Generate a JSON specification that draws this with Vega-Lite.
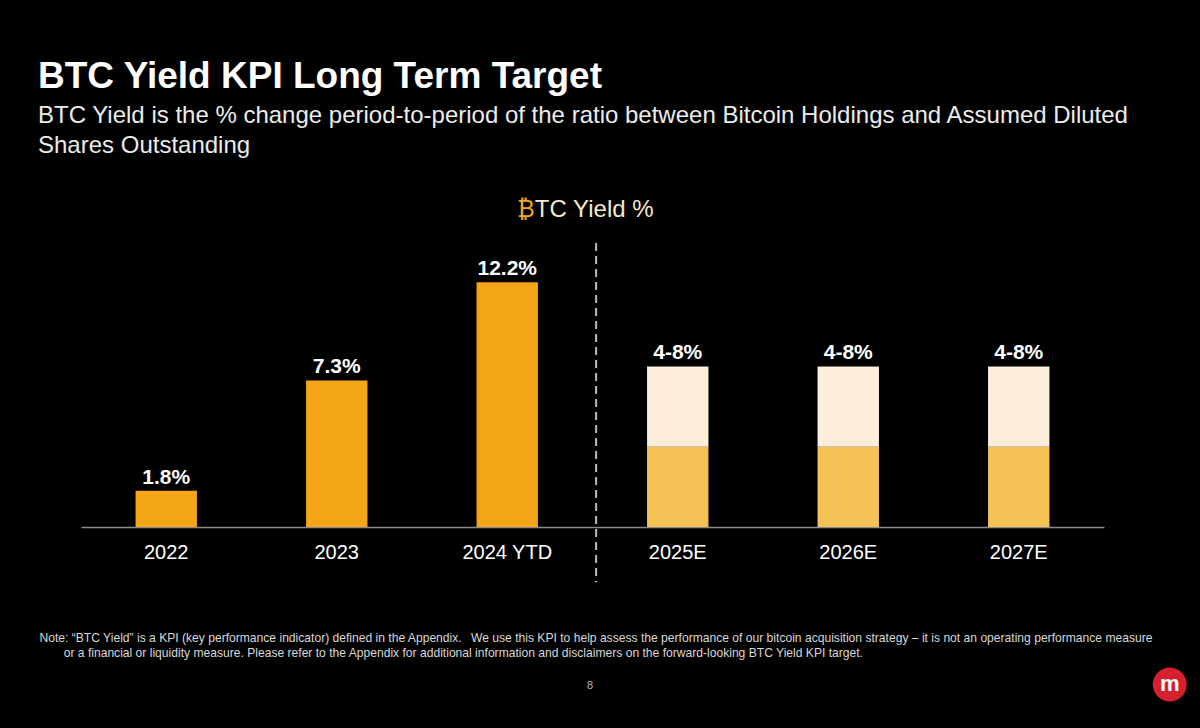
{
  "$schema": "https://vega.github.io/schema/vega-lite/v6.json",
  "width": 1023,
  "height": 284,
  "autosize": "none",
  "padding": {"left": 81, "top": 243, "right": 96, "bottom": 201},
  "background": "#000000",
  "config": {"view": {"stroke": null}, "font": "Liberation Sans"},
  "title": {
    "text": "BTC Yield KPI Long Term Target",
    "subtitle": ["BTC Yield is the % change period-to-period of the ratio between Bitcoin Holdings and Assumed Diluted", "Shares Outstanding"],
    "anchor": "start",
    "frame": "group",
    "dx": -43,
    "offset": 39,
    "font": "Liberation Sans",
    "fontSize": 37,
    "fontWeight": "bold",
    "color": "#ffffff",
    "subtitleFont": "Liberation Sans",
    "subtitleFontSize": 24,
    "subtitleColor": "#ececec",
    "subtitleLineHeight": 30,
    "subtitlePadding": 8
  },
  "data": {
    "values": [
      {"period": "2022", "low": 0, "high": 1.8, "part": "actual", "label": "1.8%"},
      {"period": "2023", "low": 0, "high": 7.3, "part": "actual", "label": "7.3%"},
      {"period": "2024 YTD", "low": 0, "high": 12.2, "part": "actual", "label": "12.2%"},
      {"period": "2025E", "low": 0, "high": 4, "part": "lower", "label": null},
      {"period": "2025E", "low": 4, "high": 8, "part": "upper", "label": "4-8%"},
      {"period": "2026E", "low": 0, "high": 4, "part": "lower", "label": null},
      {"period": "2026E", "low": 4, "high": 8, "part": "upper", "label": "4-8%"},
      {"period": "2027E", "low": 0, "high": 4, "part": "lower", "label": null},
      {"period": "2027E", "low": 4, "high": 8, "part": "upper", "label": "4-8%"}
    ]
  },
  "layer": [
    {
      "mark": {"type": "bar"},
      "encoding": {
        "x": {
          "field": "period",
          "type": "nominal",
          "sort": ["2022", "2023", "2024 YTD", "2025E", "2026E", "2027E"],
          "scale": {"paddingInner": 0.64, "paddingOuter": 0.32},
          "axis": {
            "title": [
              "Note: “BTC Yield” is a KPI (key performance indicator) defined in the Appendix.\u2002 We use this KPI to help assess the performance of our bitcoin acquisition strategy – it is not an operating performance measure",
              "\u200b\u2003\u2003or a financial or liquidity measure. Please refer to the Appendix for additional information and disclaimers on the forward-looking BTC Yield KPI target."
            ],
            "titleFont": "Liberation Sans",
            "titleFontSize": 12.1,
            "titleFontWeight": "normal",
            "titleColor": "#d8d8d8",
            "titleAlign": "left",
            "titleAnchor": "start",
            "titleX": -42,
            "titleY": 104,
            "titleBaseline": "top",
            "titleLineHeight": 15,
            "labelFont": "Liberation Sans",
            "labelFontSize": 20,
            "labelColor": "#ffffff",
            "labelPadding": 15,
            "labelAngle": 0,
            "ticks": false,
            "domainColor": "#8a8a8a",
            "domainWidth": 1.5,
            "grid": false
          }
        },
        "y": {"field": "low", "type": "quantitative", "scale": {"domain": [0, 14.15], "nice": false, "zero": true}, "axis": null},
        "y2": {"field": "high"},
        "color": {
          "field": "part",
          "type": "nominal",
          "scale": {"domain": ["actual", "lower", "upper"], "range": ["#F5A518", "#F5C256", "#FCEEDA"]},
          "legend": null
        }
      }
    },
    {
      "transform": [{"filter": "datum.label != null"}],
      "mark": {"type": "text", "baseline": "alphabetic", "dy": -7, "fontSize": 21, "fontWeight": "bold", "color": "#ffffff", "font": "Liberation Sans"},
      "encoding": {
        "x": {"field": "period", "type": "nominal", "sort": ["2022", "2023", "2024 YTD", "2025E", "2026E", "2027E"]},
        "y": {"field": "high", "type": "quantitative", "axis": null},
        "text": {"field": "label"}
      }
    },
    {
      "data": {"values": [{"divider": "forecast"}]},
      "mark": {"type": "rule", "color": "#bdbdbd", "strokeWidth": 2, "strokeDash": [8, 5]},
      "encoding": {
        "x": {"datum": "2025E", "bandPosition": -0.83},
        "y": {"datum": 14.15, "type": "quantitative", "axis": null},
        "y2": {"datum": -2.75}
      }
    },
    {
      "data": {"values": [{"t": "₿"}]},
      "mark": {"type": "text", "align": "right", "baseline": "middle", "fontSize": 24, "color": "#F5A623", "font": "Liberation Sans, Noto Sans, DejaVu Sans"},
      "encoding": {
        "x": {"datum": "2024 YTD", "bandPosition": 0.95},
        "y": {"datum": 15.8, "type": "quantitative", "axis": null},
        "text": {"field": "t"}
      }
    },
    {
      "data": {"values": [{"t": "TC Yield %"}]},
      "mark": {"type": "text", "align": "left", "baseline": "middle", "fontSize": 24, "color": "#F6E8CC", "font": "Liberation Sans"},
      "encoding": {
        "x": {"datum": "2024 YTD", "bandPosition": 0.95},
        "y": {"datum": 15.8, "type": "quantitative", "axis": null},
        "text": {"field": "t"}
      }
    },
    {
      "data": {"values": [{"t": "8"}]},
      "mark": {"type": "text", "align": "center", "baseline": "middle", "fontSize": 11, "color": "#bbbbbb", "font": "Liberation Sans"},
      "encoding": {
        "x": {"datum": "2025E", "bandPosition": -0.93},
        "y": {"datum": -7.9, "type": "quantitative", "axis": null},
        "text": {"field": "t"}
      }
    },
    {
      "data": {"values": [{"logo": "m"}]},
      "mark": {"type": "point", "shape": "circle", "filled": true, "size": 1150, "color": "#D6202E", "opacity": 1},
      "encoding": {
        "x": {"datum": "2027E", "bandPosition": 2.96},
        "y": {"datum": -7.85, "type": "quantitative", "axis": null}
      }
    },
    {
      "data": {"values": [{"logo": "m"}]},
      "mark": {"type": "text", "align": "center", "baseline": "middle", "fontSize": 22, "fontWeight": "bold", "color": "#ffffff", "font": "Liberation Sans", "dy": -1},
      "encoding": {
        "x": {"datum": "2027E", "bandPosition": 2.96},
        "y": {"datum": -7.85, "type": "quantitative", "axis": null},
        "text": {"field": "logo"}
      }
    }
  ]
}
